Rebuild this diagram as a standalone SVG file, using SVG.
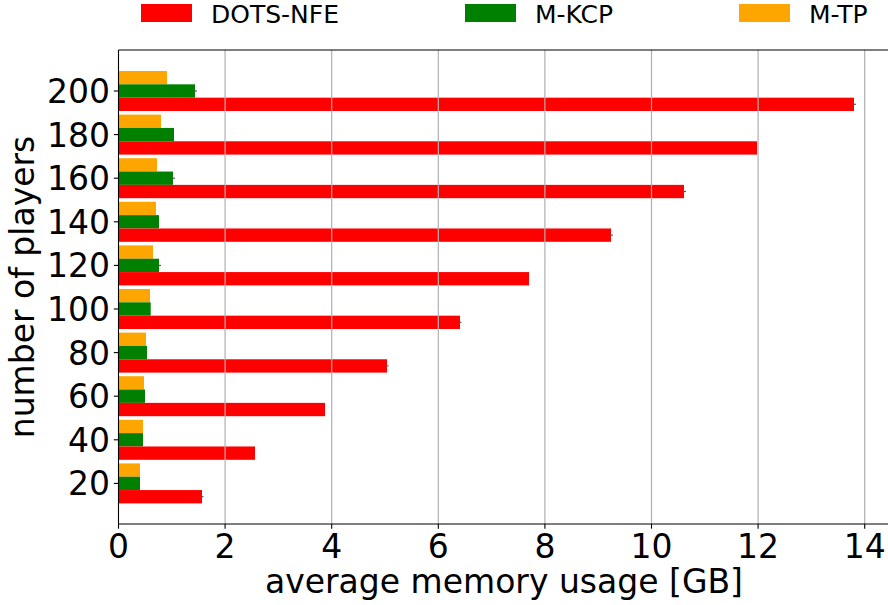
<svg xmlns="http://www.w3.org/2000/svg" width="888" height="605" viewBox="0 0 888 605">
  <style>
    text { font-family: "DejaVu Sans", "Liberation Sans", sans-serif; fill: #000; }
    .tick { font-size: 33px; }
    .ylab { text-anchor: end; }
    .xlab { text-anchor: middle; }
    .axis-title { font-size: 33px; text-anchor: middle; }
    .legend { font-size: 25px; }
    .grid { stroke: #b0b0b0; stroke-width: 1.2; }
    .spine { stroke: #000; stroke-width: 1.1; fill: none; }
    .tk { stroke: #000; stroke-width: 1.1; }
    .dots { fill: #ff0000; }
    .kcp { fill: #008000; }
    .tp { fill: #ffa500; }
    .err { stroke: #555; stroke-width: 1.2; }
  </style>

  <rect width="888" height="605" fill="#fff"/>

  <!-- legend -->
  <g id="legend">
    <rect class="dots" x="141" y="4" width="51" height="18"/>
    <text class="legend" x="211" y="22.7">DOTS-NFE</text>
    <rect class="kcp" x="465" y="4" width="51" height="18"/>
    <text class="legend" x="535" y="22.7">M-KCP</text>
    <rect class="tp" x="739" y="4" width="51" height="18"/>
    <text class="legend" x="809" y="22.7">M-TP</text>
  </g>

  <!-- bars: orange (M-TP) top, green (M-KCP) middle, red (DOTS-NFE) bottom -->
  <g id="bars">
    <!-- 200 -->
    <rect class="tp" x="118.5" y="71" width="48.5" height="13.33"/>
    <rect class="kcp" x="118.5" y="84.33" width="76.5" height="13.33"/>
    <rect class="dots" x="118.5" y="97.67" width="735.5" height="13.33"/>
    <!-- 180 -->
    <rect class="tp" x="118.5" y="114.6" width="42.5" height="13.33"/>
    <rect class="kcp" x="118.5" y="127.93" width="55.5" height="13.33"/>
    <rect class="dots" x="118.5" y="141.27" width="638.5" height="13.33"/>
    <!-- 160 -->
    <rect class="tp" x="118.5" y="158.2" width="38.5" height="13.33"/>
    <rect class="kcp" x="118.5" y="171.53" width="54.5" height="13.33"/>
    <rect class="dots" x="118.5" y="184.87" width="565.5" height="13.33"/>
    <!-- 140 -->
    <rect class="tp" x="118.5" y="201.8" width="37.5" height="13.33"/>
    <rect class="kcp" x="118.5" y="215.13" width="40.5" height="13.33"/>
    <rect class="dots" x="118.5" y="228.47" width="492.5" height="13.33"/>
    <!-- 120 -->
    <rect class="tp" x="118.5" y="245.4" width="34.5" height="13.33"/>
    <rect class="kcp" x="118.5" y="258.73" width="40.5" height="13.33"/>
    <rect class="dots" x="118.5" y="272.07" width="410.5" height="13.33"/>
    <!-- 100 -->
    <rect class="tp" x="118.5" y="289" width="31.5" height="13.33"/>
    <rect class="kcp" x="118.5" y="302.33" width="32.2" height="13.33"/>
    <rect class="dots" x="118.5" y="315.67" width="341.5" height="13.33"/>
    <!-- 80 -->
    <rect class="tp" x="118.5" y="332.6" width="27.5" height="13.33"/>
    <rect class="kcp" x="118.5" y="345.93" width="28.5" height="13.33"/>
    <rect class="dots" x="118.5" y="359.27" width="268.5" height="13.33"/>
    <!-- 60 -->
    <rect class="tp" x="118.5" y="376.2" width="25.5" height="13.33"/>
    <rect class="kcp" x="118.5" y="389.53" width="26.5" height="13.33"/>
    <rect class="dots" x="118.5" y="402.87" width="206.5" height="13.33"/>
    <!-- 40 -->
    <rect class="tp" x="118.5" y="419.8" width="24.5" height="13.33"/>
    <rect class="kcp" x="118.5" y="433.13" width="24.5" height="13.33"/>
    <rect class="dots" x="118.5" y="446.47" width="136.5" height="13.33"/>
    <!-- 20 -->
    <rect class="tp" x="118.5" y="463.4" width="21.5" height="13.33"/>
    <rect class="kcp" x="118.5" y="476.73" width="21.5" height="13.33"/>
    <rect class="dots" x="118.5" y="490.07" width="83.5" height="13.33"/>
  </g>

  <!-- small error-bar whiskers at bar ends -->
  <g id="errorbars" class="err">
    <line x1="853" y1="104.3" x2="856" y2="104.3"/>
    <line x1="194" y1="91" x2="197" y2="91"/>
    <line x1="683" y1="191.5" x2="686" y2="191.5"/>
    <line x1="172" y1="178.2" x2="175" y2="178.2"/>
    <line x1="610" y1="235.1" x2="613" y2="235.1"/>
    <line x1="158" y1="265.4" x2="161" y2="265.4"/>
    <line x1="459" y1="322.3" x2="461.5" y2="322.3"/>
    <line x1="386" y1="365.9" x2="388.5" y2="365.9"/>
    <line x1="201" y1="496.7" x2="203.5" y2="496.7"/>
  </g>

  <!-- vertical grid lines, drawn over the bars -->
  <g id="grid" class="grid">
    <line x1="225.1" y1="50" x2="225.1" y2="524"/>
    <line x1="331.7" y1="50" x2="331.7" y2="524"/>
    <line x1="438.3" y1="50" x2="438.3" y2="524"/>
    <line x1="544.9" y1="50" x2="544.9" y2="524"/>
    <line x1="651.5" y1="50" x2="651.5" y2="524"/>
    <line x1="758.1" y1="50" x2="758.1" y2="524"/>
    <line x1="864.7" y1="50" x2="864.7" y2="524"/>
  </g>

  <!-- axes frame -->
  <g id="axes">
    <line class="spine" x1="118.5" y1="50" x2="888" y2="50"/>
    <line class="spine" x1="118.5" y1="524" x2="888" y2="524"/>
    <line class="spine" x1="118.5" y1="50" x2="118.5" y2="524"/>

    <!-- y ticks -->
    <g class="tk">
      <line x1="113.8" y1="91" x2="118.5" y2="91"/>
      <line x1="113.8" y1="134.6" x2="118.5" y2="134.6"/>
      <line x1="113.8" y1="178.2" x2="118.5" y2="178.2"/>
      <line x1="113.8" y1="221.8" x2="118.5" y2="221.8"/>
      <line x1="113.8" y1="265.4" x2="118.5" y2="265.4"/>
      <line x1="113.8" y1="309" x2="118.5" y2="309"/>
      <line x1="113.8" y1="352.6" x2="118.5" y2="352.6"/>
      <line x1="113.8" y1="396.2" x2="118.5" y2="396.2"/>
      <line x1="113.8" y1="439.8" x2="118.5" y2="439.8"/>
      <line x1="113.8" y1="483.4" x2="118.5" y2="483.4"/>
    </g>
    <g class="tick ylab">
      <text x="110" y="103">200</text>
      <text x="110" y="146.6">180</text>
      <text x="110" y="190.2">160</text>
      <text x="110" y="233.8">140</text>
      <text x="110" y="277.4">120</text>
      <text x="110" y="321">100</text>
      <text x="110" y="364.6">80</text>
      <text x="110" y="408.2">60</text>
      <text x="110" y="451.8">40</text>
      <text x="110" y="495.4">20</text>
    </g>

    <!-- x ticks -->
    <g class="tk">
      <line x1="118.5" y1="524" x2="118.5" y2="528.7"/>
      <line x1="225.1" y1="524" x2="225.1" y2="528.7"/>
      <line x1="331.7" y1="524" x2="331.7" y2="528.7"/>
      <line x1="438.3" y1="524" x2="438.3" y2="528.7"/>
      <line x1="544.9" y1="524" x2="544.9" y2="528.7"/>
      <line x1="651.5" y1="524" x2="651.5" y2="528.7"/>
      <line x1="758.1" y1="524" x2="758.1" y2="528.7"/>
      <line x1="864.7" y1="524" x2="864.7" y2="528.7"/>
    </g>
    <g class="tick xlab">
      <text x="118.5" y="558">0</text>
      <text x="225.1" y="558">2</text>
      <text x="331.7" y="558">4</text>
      <text x="438.3" y="558">6</text>
      <text x="544.9" y="558">8</text>
      <text x="651.5" y="558">10</text>
      <text x="758.1" y="558">12</text>
      <text x="864.7" y="558">14</text>
    </g>

    <text class="axis-title" x="504" y="593.3">average memory usage [GB]</text>
    <text class="axis-title" transform="translate(34,287) rotate(-90)">number of players</text>
  </g>
</svg>
